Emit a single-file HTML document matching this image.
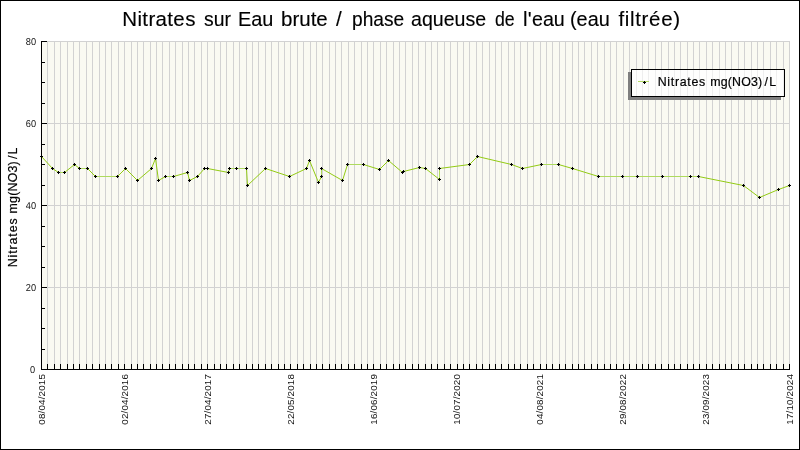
<!DOCTYPE html>
<html><head><meta charset="utf-8"><title>Nitrates</title>
<style>
html,body{margin:0;padding:0;background:#fff;}
body{width:800px;height:450px;position:relative;overflow:hidden;font-family:"Liberation Sans",sans-serif;color:#000;}
#tx{position:absolute;left:0;top:0;width:800px;height:450px;will-change:transform;}
.t{position:absolute;white-space:nowrap;font-family:"Liberation Sans",sans-serif;}
.yl{font-size:10px;line-height:12px;height:12px;text-align:right;color:#111;transform:rotate(0.03deg) scaleX(0.92);transform-origin:100% 50%;}
.xl{font-size:9.8px;letter-spacing:0.17px;line-height:12px;height:12px;width:60px;margin-left:-60px;text-align:right;transform-origin:100% 0;transform:rotate(-90deg) translate(0,-6px);color:#111;}
.tw{top:7.3px;font-size:20.5px;line-height:24px;-webkit-text-stroke:0.15px #000;}
#ytitle{font-size:12.4px;-webkit-text-stroke:0.2px #000;line-height:14px;height:14px;width:130px;left:5.8px;top:266.0px;transform:rotate(-90deg);transform-origin:0 0;}
.lg{-webkit-text-stroke:0.2px #000;font-size:12.4px;line-height:14px;top:75px;}
</style></head><body>
<svg width="800" height="450" viewBox="0 0 800 450" style="position:absolute;left:0;top:0">
<rect x="0" y="0" width="800" height="450" fill="#fff"/>
<rect x="41" y="41" width="749" height="328" fill="#fafaf2" shape-rendering="crispEdges"/>
<path d="M47 41h1v328h-1zM54 41h1v328h-1zM60 41h1v328h-1zM67 41h1v328h-1zM73 41h1v328h-1zM79 41h1v328h-1zM86 41h1v328h-1zM92 41h1v328h-1zM99 41h1v328h-1zM105 41h1v328h-1zM111 41h1v328h-1zM118 41h1v328h-1zM124 41h1v328h-1zM131 41h1v328h-1zM137 41h1v328h-1zM143 41h1v328h-1zM150 41h1v328h-1zM156 41h1v328h-1zM162 41h1v328h-1zM169 41h1v328h-1zM175 41h1v328h-1zM182 41h1v328h-1zM188 41h1v328h-1zM194 41h1v328h-1zM201 41h1v328h-1zM207 41h1v328h-1zM214 41h1v328h-1zM220 41h1v328h-1zM226 41h1v328h-1zM233 41h1v328h-1zM239 41h1v328h-1zM246 41h1v328h-1zM252 41h1v328h-1zM258 41h1v328h-1zM265 41h1v328h-1zM271 41h1v328h-1zM278 41h1v328h-1zM284 41h1v328h-1zM290 41h1v328h-1zM297 41h1v328h-1zM303 41h1v328h-1zM310 41h1v328h-1zM316 41h1v328h-1zM322 41h1v328h-1zM329 41h1v328h-1zM335 41h1v328h-1zM341 41h1v328h-1zM348 41h1v328h-1zM354 41h1v328h-1zM361 41h1v328h-1zM367 41h1v328h-1zM373 41h1v328h-1zM380 41h1v328h-1zM386 41h1v328h-1zM393 41h1v328h-1zM399 41h1v328h-1zM405 41h1v328h-1zM412 41h1v328h-1zM418 41h1v328h-1zM425 41h1v328h-1zM431 41h1v328h-1zM437 41h1v328h-1zM444 41h1v328h-1zM450 41h1v328h-1zM457 41h1v328h-1zM463 41h1v328h-1zM469 41h1v328h-1zM476 41h1v328h-1zM482 41h1v328h-1zM489 41h1v328h-1zM495 41h1v328h-1zM501 41h1v328h-1zM508 41h1v328h-1zM514 41h1v328h-1zM520 41h1v328h-1zM527 41h1v328h-1zM533 41h1v328h-1zM540 41h1v328h-1zM546 41h1v328h-1zM552 41h1v328h-1zM559 41h1v328h-1zM565 41h1v328h-1zM572 41h1v328h-1zM578 41h1v328h-1zM584 41h1v328h-1zM591 41h1v328h-1zM597 41h1v328h-1zM604 41h1v328h-1zM610 41h1v328h-1zM616 41h1v328h-1zM623 41h1v328h-1zM629 41h1v328h-1zM636 41h1v328h-1zM642 41h1v328h-1zM648 41h1v328h-1zM655 41h1v328h-1zM661 41h1v328h-1zM668 41h1v328h-1zM674 41h1v328h-1zM680 41h1v328h-1zM687 41h1v328h-1zM693 41h1v328h-1zM699 41h1v328h-1zM706 41h1v328h-1zM712 41h1v328h-1zM719 41h1v328h-1zM725 41h1v328h-1zM731 41h1v328h-1zM738 41h1v328h-1zM744 41h1v328h-1zM751 41h1v328h-1zM757 41h1v328h-1zM763 41h1v328h-1zM770 41h1v328h-1zM776 41h1v328h-1zM783 41h1v328h-1zM789 41h1v328h-1zM41 287h749v1h-749zM41 205h749v1h-749zM41 123h749v1h-749zM41 41h749v1h-749z" fill="#d2d2d2" shape-rendering="crispEdges"/>
<path d="M41 41h1v329h-1zM41 369h749v1h-749zM47 364h1v5h-1zM54 364h1v5h-1zM60 364h1v5h-1zM67 364h1v5h-1zM73 364h1v5h-1zM79 364h1v5h-1zM86 364h1v5h-1zM92 364h1v5h-1zM99 364h1v5h-1zM105 364h1v5h-1zM111 364h1v5h-1zM118 364h1v5h-1zM124 364h1v5h-1zM131 364h1v5h-1zM137 364h1v5h-1zM143 364h1v5h-1zM150 364h1v5h-1zM156 364h1v5h-1zM162 364h1v5h-1zM169 364h1v5h-1zM175 364h1v5h-1zM182 364h1v5h-1zM188 364h1v5h-1zM194 364h1v5h-1zM201 364h1v5h-1zM207 364h1v5h-1zM214 364h1v5h-1zM220 364h1v5h-1zM226 364h1v5h-1zM233 364h1v5h-1zM239 364h1v5h-1zM246 364h1v5h-1zM252 364h1v5h-1zM258 364h1v5h-1zM265 364h1v5h-1zM271 364h1v5h-1zM278 364h1v5h-1zM284 364h1v5h-1zM290 364h1v5h-1zM297 364h1v5h-1zM303 364h1v5h-1zM310 364h1v5h-1zM316 364h1v5h-1zM322 364h1v5h-1zM329 364h1v5h-1zM335 364h1v5h-1zM341 364h1v5h-1zM348 364h1v5h-1zM354 364h1v5h-1zM361 364h1v5h-1zM367 364h1v5h-1zM373 364h1v5h-1zM380 364h1v5h-1zM386 364h1v5h-1zM393 364h1v5h-1zM399 364h1v5h-1zM405 364h1v5h-1zM412 364h1v5h-1zM418 364h1v5h-1zM425 364h1v5h-1zM431 364h1v5h-1zM437 364h1v5h-1zM444 364h1v5h-1zM450 364h1v5h-1zM457 364h1v5h-1zM463 364h1v5h-1zM469 364h1v5h-1zM476 364h1v5h-1zM482 364h1v5h-1zM489 364h1v5h-1zM495 364h1v5h-1zM501 364h1v5h-1zM508 364h1v5h-1zM514 364h1v5h-1zM520 364h1v5h-1zM527 364h1v5h-1zM533 364h1v5h-1zM540 364h1v5h-1zM546 364h1v5h-1zM552 364h1v5h-1zM559 364h1v5h-1zM565 364h1v5h-1zM572 364h1v5h-1zM578 364h1v5h-1zM584 364h1v5h-1zM591 364h1v5h-1zM597 364h1v5h-1zM604 364h1v5h-1zM610 364h1v5h-1zM616 364h1v5h-1zM623 364h1v5h-1zM629 364h1v5h-1zM636 364h1v5h-1zM642 364h1v5h-1zM648 364h1v5h-1zM655 364h1v5h-1zM661 364h1v5h-1zM668 364h1v5h-1zM674 364h1v5h-1zM680 364h1v5h-1zM687 364h1v5h-1zM693 364h1v5h-1zM699 364h1v5h-1zM706 364h1v5h-1zM712 364h1v5h-1zM719 364h1v5h-1zM725 364h1v5h-1zM731 364h1v5h-1zM738 364h1v5h-1zM744 364h1v5h-1zM751 364h1v5h-1zM757 364h1v5h-1zM763 364h1v5h-1zM770 364h1v5h-1zM776 364h1v5h-1zM783 364h1v5h-1zM789 364h1v5h-1zM42 349h3v1h-3zM42 328h3v1h-3zM42 308h3v1h-3zM42 287h5v1h-5zM42 267h3v1h-3zM42 246h3v1h-3zM42 226h3v1h-3zM42 205h5v1h-5zM42 185h3v1h-3zM42 164h3v1h-3zM42 144h3v1h-3zM42 123h5v1h-5zM42 103h3v1h-3zM42 82h3v1h-3zM42 62h3v1h-3zM42 41h5v1h-5z" fill="#000" shape-rendering="crispEdges"/>
<path d="M58 172h7v1h-7zM79 168h9v1h-9zM95 176h23v1h-23zM165 176h9v1h-9zM204 168h4v1h-4zM229 168h8v1h-8zM236 168h11v1h-11zM321 168h1v9h-1zM347 164h17v1h-17zM439 168h1v12h-1zM541 164h18v1h-18zM598 176h25v1h-25zM622 176h16v1h-16zM637 176h26v1h-26zM662 176h29v1h-29zM690 176h9v1h-9z" fill="#aedb5e" shape-rendering="crispEdges"/>
<path d="M41.5 156.5L52.5 168.5M52.5 168.5L58.5 172.5M64.5 172.5L74.5 164.5M74.5 164.5L79.5 168.5M87.5 168.5L95.5 176.5M117.5 176.5L125.5 168.5M125.5 168.5L137.5 180.5M137.5 180.5L151.5 168.5M151.5 168.5L155.5 158.5M155.5 158.5L158.5 180.5M158.5 180.5L165.5 176.5M173.5 176.5L187.5 172.5M187.5 172.5L189.5 180.5M189.5 180.5L197.5 176.5M197.5 176.5L204.5 168.5M207.5 168.5L228.5 172.5M228.5 172.5L229.5 168.5M246.5 168.5L247.5 185.5M247.5 185.5L265.5 168.5M265.5 168.5L289.5 176.5M289.5 176.5L306.5 168.5M306.5 168.5L309.5 160.5M309.5 160.5L318.5 182.5M318.5 182.5L321.5 176.5M321.5 168.5L342.5 180.5M342.5 180.5L347.5 164.5M363.5 164.5L379.5 169.5M379.5 169.5L388.5 160.5M388.5 160.5L402.5 172.5M402.5 172.5L403.5 171.5M403.5 171.5L419.5 167.5M419.5 167.5L425.5 168.5M425.5 168.5L439.5 179.5M439.5 168.5L469.5 164.5M469.5 164.5L477.5 156.5M477.5 156.5L511.5 164.5M511.5 164.5L522.5 168.5M522.5 168.5L541.5 164.5M558.5 164.5L572.5 168.5M572.5 168.5L598.5 176.5M698.5 176.5L743.5 185.5M743.5 185.5L759.5 197.5M759.5 197.5L778.5 189.5M778.5 189.5L789.5 185.5" fill="none" stroke="#93cb14" stroke-width="1.0" stroke-linecap="butt"/>
<path d="M41 155h1v1h1v1h-1v1h-1v-1h-1v-1h1zM52 167h1v1h1v1h-1v1h-1v-1h-1v-1h1zM58 171h1v1h1v1h-1v1h-1v-1h-1v-1h1zM64 171h1v1h1v1h-1v1h-1v-1h-1v-1h1zM74 163h1v1h1v1h-1v1h-1v-1h-1v-1h1zM79 167h1v1h1v1h-1v1h-1v-1h-1v-1h1zM87 167h1v1h1v1h-1v1h-1v-1h-1v-1h1zM95 175h1v1h1v1h-1v1h-1v-1h-1v-1h1zM117 175h1v1h1v1h-1v1h-1v-1h-1v-1h1zM125 167h1v1h1v1h-1v1h-1v-1h-1v-1h1zM137 179h1v1h1v1h-1v1h-1v-1h-1v-1h1zM151 167h1v1h1v1h-1v1h-1v-1h-1v-1h1zM155 157h1v1h1v1h-1v1h-1v-1h-1v-1h1zM158 179h1v1h1v1h-1v1h-1v-1h-1v-1h1zM165 175h1v1h1v1h-1v1h-1v-1h-1v-1h1zM173 175h1v1h1v1h-1v1h-1v-1h-1v-1h1zM187 171h1v1h1v1h-1v1h-1v-1h-1v-1h1zM189 179h1v1h1v1h-1v1h-1v-1h-1v-1h1zM197 175h1v1h1v1h-1v1h-1v-1h-1v-1h1zM204 167h1v1h1v1h-1v1h-1v-1h-1v-1h1zM207 167h1v1h1v1h-1v1h-1v-1h-1v-1h1zM228 171h1v1h1v1h-1v1h-1v-1h-1v-1h1zM229 167h1v1h1v1h-1v1h-1v-1h-1v-1h1zM236 167h1v1h1v1h-1v1h-1v-1h-1v-1h1zM246 167h1v1h1v1h-1v1h-1v-1h-1v-1h1zM247 184h1v1h1v1h-1v1h-1v-1h-1v-1h1zM265 167h1v1h1v1h-1v1h-1v-1h-1v-1h1zM289 175h1v1h1v1h-1v1h-1v-1h-1v-1h1zM306 167h1v1h1v1h-1v1h-1v-1h-1v-1h1zM309 159h1v1h1v1h-1v1h-1v-1h-1v-1h1zM318 181h1v1h1v1h-1v1h-1v-1h-1v-1h1zM321 175h1v1h1v1h-1v1h-1v-1h-1v-1h1zM321 167h1v1h1v1h-1v1h-1v-1h-1v-1h1zM342 179h1v1h1v1h-1v1h-1v-1h-1v-1h1zM347 163h1v1h1v1h-1v1h-1v-1h-1v-1h1zM363 163h1v1h1v1h-1v1h-1v-1h-1v-1h1zM379 168h1v1h1v1h-1v1h-1v-1h-1v-1h1zM388 159h1v1h1v1h-1v1h-1v-1h-1v-1h1zM402 171h1v1h1v1h-1v1h-1v-1h-1v-1h1zM403 170h1v1h1v1h-1v1h-1v-1h-1v-1h1zM419 166h1v1h1v1h-1v1h-1v-1h-1v-1h1zM425 167h1v1h1v1h-1v1h-1v-1h-1v-1h1zM439 178h1v1h1v1h-1v1h-1v-1h-1v-1h1zM439 167h1v1h1v1h-1v1h-1v-1h-1v-1h1zM469 163h1v1h1v1h-1v1h-1v-1h-1v-1h1zM477 155h1v1h1v1h-1v1h-1v-1h-1v-1h1zM511 163h1v1h1v1h-1v1h-1v-1h-1v-1h1zM522 167h1v1h1v1h-1v1h-1v-1h-1v-1h1zM541 163h1v1h1v1h-1v1h-1v-1h-1v-1h1zM558 163h1v1h1v1h-1v1h-1v-1h-1v-1h1zM572 167h1v1h1v1h-1v1h-1v-1h-1v-1h1zM598 175h1v1h1v1h-1v1h-1v-1h-1v-1h1zM622 175h1v1h1v1h-1v1h-1v-1h-1v-1h1zM637 175h1v1h1v1h-1v1h-1v-1h-1v-1h1zM662 175h1v1h1v1h-1v1h-1v-1h-1v-1h1zM690 175h1v1h1v1h-1v1h-1v-1h-1v-1h1zM698 175h1v1h1v1h-1v1h-1v-1h-1v-1h1zM743 184h1v1h1v1h-1v1h-1v-1h-1v-1h1zM759 196h1v1h1v1h-1v1h-1v-1h-1v-1h1zM778 188h1v1h1v1h-1v1h-1v-1h-1v-1h1zM789 184h1v1h1v1h-1v1h-1v-1h-1v-1h1z" fill="#000" shape-rendering="crispEdges"/>
<rect x="628" y="72" width="153" height="28" fill="#7f7f7f" shape-rendering="crispEdges"/>
<rect x="631" y="69" width="154" height="28" fill="#000" shape-rendering="crispEdges"/>
<rect x="632" y="70" width="152" height="26" fill="#fff" shape-rendering="crispEdges"/>
<rect x="632" y="70" width="152" height="26" fill="#fafaf2" fill-opacity="0.15" shape-rendering="crispEdges"/>
<path d="M636 70h1v26h-1zM642 70h1v26h-1zM648 70h1v26h-1zM655 70h1v26h-1zM661 70h1v26h-1zM668 70h1v26h-1zM674 70h1v26h-1zM680 70h1v26h-1zM687 70h1v26h-1zM693 70h1v26h-1zM699 70h1v26h-1zM706 70h1v26h-1zM712 70h1v26h-1zM719 70h1v26h-1zM725 70h1v26h-1zM731 70h1v26h-1zM738 70h1v26h-1zM744 70h1v26h-1zM751 70h1v26h-1zM757 70h1v26h-1zM763 70h1v26h-1zM770 70h1v26h-1zM776 70h1v26h-1zM783 70h1v26h-1z" fill="#eeeeee" shape-rendering="crispEdges"/>
<rect x="638" y="81" width="11" height="1" fill="#b4da66" shape-rendering="crispEdges"/>
<path d="M644 81h1v1h1v1h-1v1h-1v-1h-1v-1h1z" fill="#000" shape-rendering="crispEdges"/>
<path d="M0 0h800v450h-800zM1 1v448h798v-448z" fill="#000" fill-rule="evenodd" shape-rendering="crispEdges"/>
</svg>
<div id="tx">
<span class="t tw" style="left:122.30px;letter-spacing:0.35px">Nitrates</span>
<span class="t tw" style="left:203.56px;transform:scaleX(0.9444);transform-origin:0 50%">sur</span>
<span class="t tw" style="left:238.06px;transform:scaleX(0.9697);transform-origin:0 50%">Eau</span>
<span class="t tw" style="left:281.00px;letter-spacing:0.0px">brute</span>
<span class="t tw" style="left:336.00px;letter-spacing:0.0px">/</span>
<span class="t tw" style="left:351.56px;transform:scaleX(0.9352);transform-origin:0 50%">phase</span>
<span class="t tw" style="left:411.05px;transform:scaleX(0.9545);transform-origin:0 50%">aqueuse</span>
<span class="t tw" style="left:494.74px;transform:scaleX(0.8643);transform-origin:0 50%">de</span>
<span class="t tw" style="left:523.00px;letter-spacing:0.2px">l&#39;</span>
<span class="t tw" style="left:532.14px;transform:scaleX(0.9578);transform-origin:0 50%">eau</span>
<span class="t tw" style="left:570.03px;transform:scaleX(0.9679);transform-origin:0 50%">(eau</span>
<span class="t tw" style="left:618.50px;letter-spacing:0.65px">filtrée)</span>
<div class="t yl" style="left:0;width:35px;top:364px;">0</div>
<div class="t yl" style="left:0;width:36px;top:282px;">20</div>
<div class="t yl" style="left:0;width:36px;top:200px;">40</div>
<div class="t yl" style="left:0;width:36px;top:118px;">60</div>
<div class="t yl" style="left:0;width:36px;top:36px;">80</div>
<div class="t xl" style="left:41.50px;top:374.2px;">08/04/2015</div>
<div class="t xl" style="left:124.61px;top:374.2px;">02/04/2016</div>
<div class="t xl" style="left:207.72px;top:374.2px;">27/04/2017</div>
<div class="t xl" style="left:290.83px;top:374.2px;">22/05/2018</div>
<div class="t xl" style="left:373.94px;top:374.2px;">16/06/2019</div>
<div class="t xl" style="left:457.06px;top:374.2px;">10/07/2020</div>
<div class="t xl" style="left:540.17px;top:374.2px;">04/08/2021</div>
<div class="t xl" style="left:623.28px;top:374.2px;">29/08/2022</div>
<div class="t xl" style="left:706.39px;top:374.2px;">23/09/2023</div>
<div class="t xl" style="left:789.50px;top:374.2px;">17/10/2024</div>
<div class="t" id="ytitle"><span class="t" style="left:-1.35px;top:0;letter-spacing:0.9px">Nitrates</span><span class="t" style="left:52.60px;top:0;letter-spacing:0.2px">mg(NO3)</span><span class="t" style="left:106.95px;top:0;letter-spacing:0.0px">/</span><span class="t" style="left:111.60px;top:0;letter-spacing:0.0px">L</span></div>
<span class="t lg" style="left:657.70px;letter-spacing:0.7px">Nitrates</span>
<span class="t lg" style="left:710.25px;letter-spacing:0.15px">mg(NO3)</span>
<span class="t lg" style="left:764.42px;letter-spacing:0.0px">/</span>
<span class="t lg" style="left:769.20px;letter-spacing:0.0px">L</span>
</div>
</body></html>
